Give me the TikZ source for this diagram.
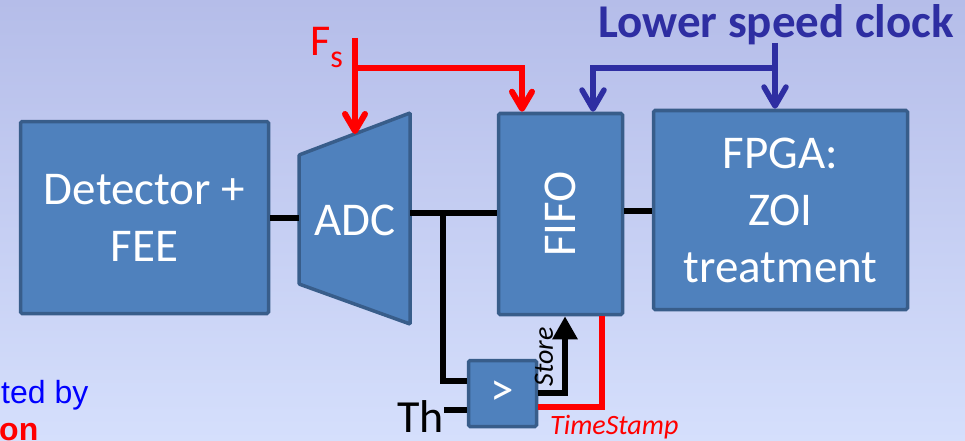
\documentclass[tikz,border=0pt]{standalone}
\usepackage{fontspec}
\setmainfont{Carlito}
\newfontfamily\notefont{Liberation Sans}
\usetikzlibrary{arrows.meta,positioning,calc}
\definecolor{boxfill}{HTML}{4F81BD}
\definecolor{boxedge}{HTML}{385D8A}
\definecolor{clkblue}{HTML}{2E2EA2}
\definecolor{bgtop}{HTML}{B5BDE9}
\definecolor{bgbot}{HTML}{D5DFFC}
\definecolor{sigred}{HTML}{FF0000}
\tikzset{
  block/.style={draw=boxedge, fill=boxfill, line width=3.5pt, rounded corners=1.5pt, text=white, align=center, font=\fontsize{47}{57}\selectfont},
  adcbody/.style={draw=boxedge, fill=boxfill, line width=3.5pt, rounded corners=1pt},
  boxtext/.style={text=white, inner sep=0pt, font=\fontsize{47}{57}\selectfont},
  wire/.style={line width=6.5pt, black},
  storearrow/.style={wire, -{Triangle[length=23pt, width=24pt]}},
  redwire/.style={line width=6pt, sigred},
  redarrow/.style={redwire, -{Straight Barb[length=17pt, width=20pt, line width=6pt, round]}},
  bluearrow/.style={line width=5.5pt, clkblue, -{Straight Barb[length=19pt, width=22pt, line width=5.5pt, round]}},
  clklabel/.style={text=clkblue, inner sep=0pt, font=\bfseries\fontsize{47}{47}\selectfont},
  fslabel/.style={text=sigred, inner sep=0pt, font=\fontsize{44}{44}\selectfont},
  thlabel/.style={text=black, inner sep=0pt, font=\fontsize{46}{46}\selectfont},
  smalllabel/.style={inner sep=0pt, font=\itshape\fontsize{28}{28}\selectfont},
  notelabel/.style={inner sep=0pt, font=\notefont\fontsize{32}{32}\selectfont}
}
\begin{document}
\begin{tikzpicture}[x=1pt, y=-1pt]
  \fill[top color=bgtop, bottom color=bgbot] (0,0) rectangle (965,441);
  \useasboundingbox (0,0) rectangle (965,441);
  % blocks
  \node[block, minimum width=248pt, minimum height=192pt] (det) at (144.5,217.5) {Detector +\\FEE};
  \draw[adcbody] (299,155) -- (410,113) -- (410,324) -- (299,284) -- cycle;
  \node[boxtext] (adc) at (355,220) {ADC};
  \node[block, minimum width=124pt, minimum height=201pt] (fifo) at (560.5,214) {};
  \node[boxtext, rotate=90] (fifotext) at (fifo.center) {FIFO};
  \node[block, minimum width=254pt, minimum height=199pt] (fpga) at (780.5,210) {FPGA:\\ZOI\\treatment};
  \node[block, minimum width=68pt, minimum height=66pt] (cmp) at (502.5,393.5) {>};
  \coordinate (adcin) at (299,218);
  \coordinate (adcout) at (410,213);
  \coordinate (adctop) at (355,134);
  \coordinate (tap) at (443,213);
  % data path
  \draw[wire] (det.east |- adcin) -- (adcin);
  \draw[wire] (adcout) -- (adcout -| fifo.west);
  \draw[wire] (fifo.east |- 0,211) -- (fpga.west |- 0,211);
  \draw[wire] (tap) |- (cmp.west |- 0,381);
  \node[thlabel, anchor=base east] (th) at (444,432) {Th};
  \draw[wire] (th.east |- 0,410) -- (cmp.west |- 0,410);
  \draw[storearrow] (cmp.east |- 0,393) -| (fifo.south -| 565,0);
  \node[smalllabel, rotate=90] (store) at (544,357) {Store};
  \draw[redwire] (cmp.east |- 0,407) -| (fifo.south -| 602,0);
  \node[smalllabel, text=sigred, anchor=base west] (ts) at (550,434) {TimeStamp};
  % clocks
  \node[fslabel, anchor=base west] (fs) at (310,56) {F\raisebox{-12pt}{\fontsize{32}{32}\selectfont s}};
  \coordinate (fsin) at (355,38);
  \draw[redarrow] (fsin) -- (adctop);
  \draw[redarrow] (fsin |- 0,68) -| (fifo.north -| 522,0);
  \node[clklabel, anchor=base] (clk) at (776,38) {Lower speed clock};
  \coordinate (clkin) at (775,43);
  \draw[bluearrow] (clkin) -- (clkin |- fpga.north);
  \draw[bluearrow] (clkin |- 0,68) -| (fifo.north -| 593,0);
  % cut-off note
  \node[notelabel, text=blue, anchor=base west] (note) at (1,403) {ted by};
  \node[notelabel, text=sigred, anchor=base west, font=\notefont\bfseries\fontsize{32}{32}\selectfont] (note2) at (-1,440) {on};
\end{tikzpicture}
\end{document}
